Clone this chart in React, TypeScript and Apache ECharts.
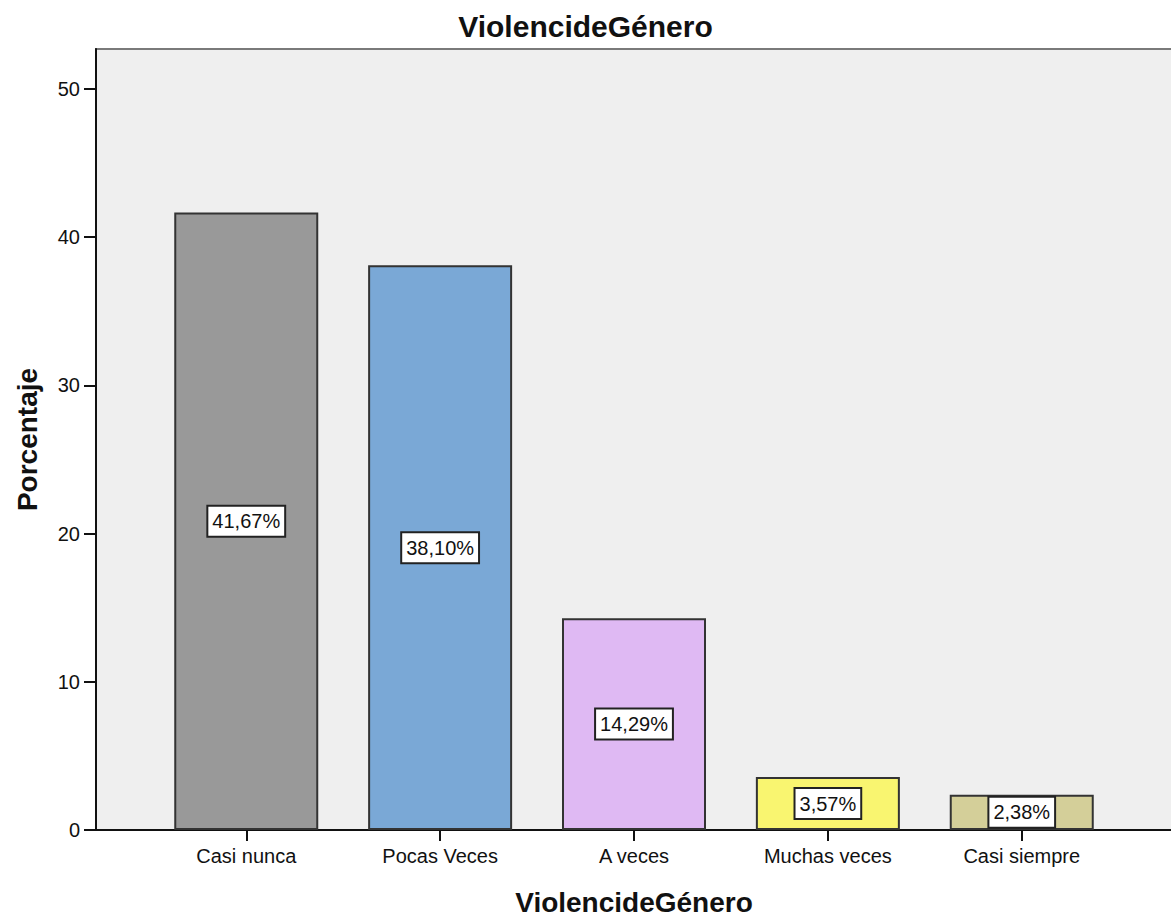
import React, { useEffect, useRef } from "react";
import * as echarts from "echarts";

const categories = ["Casi nunca", "Pocas Veces", "A veces", "Muchas veces", "Casi siempre"];
const percentages = [41.67, 38.1, 14.29, 3.57, 2.38];
const barColors = ["#999999", "#7aa8d6", "#dfb9f3", "#f9f570", "#d4cf99"];
const yTicks = [0, 10, 20, 30, 40, 50];
const chartTitle = "ViolencideGénero";
const xAxisName = "ViolencideGénero";
const yAxisName = "Porcentaje";

const FONT = "'Liberation Sans', Arial, sans-serif";

export default function App() {
  const ref = useRef<HTMLDivElement>(null);
  useEffect(() => {
    if (!ref.current) return;
    const chart = echarts.init(ref.current, null, { renderer: "svg" });
    const idx = categories.map((_, i) => i);
    chart.setOption({
      animation: false,
      backgroundColor: "#ffffff",
      textStyle: { fontFamily: FONT },
      title: {
        text: chartTitle,
        left: "center",
        top: 6,
        textStyle: { fontFamily: FONT, fontSize: 30, fontWeight: "bold", color: "#111" },
      },
      grid: {
        left: 96,
        top: 49,
        right: -1,
        bottom: 88,
        outerBoundsMode: "none",
        containLabel: false,
        show: true,
        backgroundColor: "#efefef",
        borderColor: "#7a7a7a",
        borderWidth: 2,
      },
      xAxis: {
        type: "value",
        min: -0.775,
        max: 4.775,
        name: xAxisName,
        nameLocation: "middle",
        nameGap: 58,
        nameTextStyle: { fontFamily: FONT, fontSize: 28, fontWeight: "bold", color: "#111" },
        splitLine: { show: false },
        axisLine: { show: true, onZero: false, lineStyle: { color: "#111", width: 2 } },
        axisTick: { show: true, length: 11, customValues: idx, lineStyle: { color: "#111", width: 2 } },
        axisLabel: {
          customValues: idx,
          margin: 16,
          fontSize: 20,
          color: "#111",
          fontFamily: FONT,
          formatter: (v: number) => categories[Math.round(v)] ?? "",
        },
      },
      yAxis: {
        type: "value",
        min: 0,
        max: 52.7,
        interval: 10,
        name: yAxisName,
        nameLocation: "middle",
        nameGap: 55,
        nameRotate: 90,
        nameTextStyle: { fontFamily: FONT, fontSize: 28, fontWeight: "bold", color: "#111" },
        splitLine: { show: false },
        axisLine: { show: true, onZero: false, lineStyle: { color: "#111", width: 2 } },
        axisTick: { show: true, length: 12, customValues: yTicks, lineStyle: { color: "#111", width: 2 } },
        axisLabel: {
          customValues: yTicks,
          margin: 16,
          fontSize: 20,
          color: "#111",
          fontFamily: FONT,
        },
      },
      series: [
        {
          type: "bar",
          barWidth: 144,
          data: percentages.map((v, i) => ({
            value: [i, v],
            itemStyle: { color: barColors[i], borderColor: "#333", borderWidth: 2 },
          })),
          label: {
            show: true,
            position: "inside",
            formatter: (p: any) => p.value[1].toFixed(2).replace(".", ",") + "%",
            fontFamily: FONT,
            fontSize: 20,
            color: "#111",
            backgroundColor: "#ffffff",
            borderColor: "#222",
            borderWidth: 2,
            padding: [5, 4, 4, 4],
          },
        },
      ],
    });
    return () => chart.dispose();
  }, []);
  return (
    <div
      ref={ref}
      style={{ position: "absolute", left: 0, top: 0, width: 1171, height: 918 }}
    />
  );
}
